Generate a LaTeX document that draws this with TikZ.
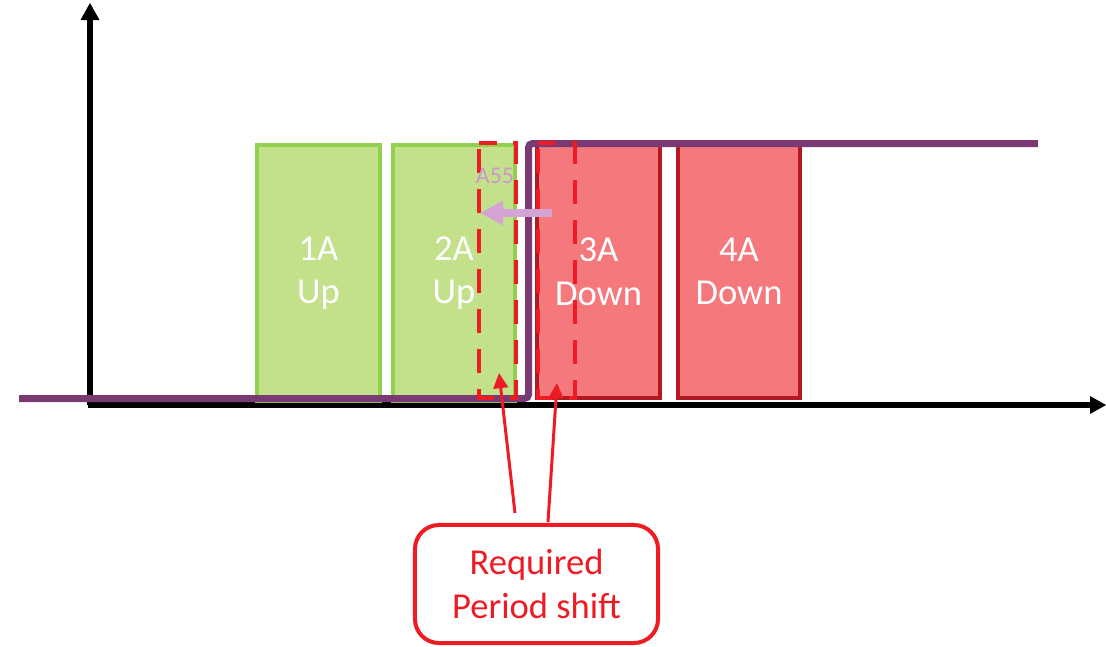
\documentclass[tikz,border=0pt]{standalone}
\usepackage{fontspec}
\setmainfont{Carlito}
\usetikzlibrary{arrows.meta}
\definecolor{upfill}{HTML}{C3E08B}
\definecolor{updraw}{HTML}{92D050}
\definecolor{downfill}{HTML}{F4787C}
\definecolor{downdraw}{HTML}{B21923}
\definecolor{period}{HTML}{7A3972}
\definecolor{shiftred}{HTML}{ED1C24}
\definecolor{movepink}{HTML}{D4A4D4}
\definecolor{labelpink}{HTML}{C99AC9}
\tikzset{
  slotbox/.style={line width=0.1cm, minimum width=3.05cm, text=white, align=center,
    font=\fontsize{26}{31}\selectfont},
  upbox/.style={slotbox, draw=updraw, fill=upfill, minimum height=6.4cm},
  downbox/.style={slotbox, draw=downdraw, fill=downfill, minimum height=6.33cm},
  shiftline/.style={shiftred, line width=0.1cm, dash pattern=on 0.6cm off 0.4cm, dash phase=0.85cm},
  shiftarrow/.style={shiftred, line width=0.075cm, -{Triangle[length=0.38cm,width=0.36cm]}}
}
\begin{document}
\begin{tikzpicture}[x=0.025cm, y=0.025cm]
	\tikzstyle{every node}+=[inner sep=0pt]
	\useasboundingbox (0,0) rectangle (1106,-646);
	% axes
	\draw [black, line width=0.13cm] (90,-405) -- (90,-18);
	\fill [black] (90,-3) -- (80.5,-20) -- (99.5,-20);
	\draw [black, line width=0.14cm] (88,-405) -- (1092,-405);
	\fill [black] (1106,-405) -- (1090,-396) -- (1090,-414);
	% slots
	\node [upbox] (b1a) at (318.5,-273) {1A\\Up};
	\node [upbox] (b2a) at (454,-273) {2A\\Up};
	\node [downbox] (b3a) at (598.5,-271.5) {3A\\Down};
	\node [downbox] (b4a) at (739,-271.5) {4A\\Down};
	% period
	\draw [period, line width=0.175cm, rounded corners=0.1cm] (19,-398.5) -- (528.5,-398.5) -- (528.5,-143.5) -- (1038,-143.5);
	\draw [shiftline] (479,-143) rectangle (516,-398);
	\draw [shiftline] (538,-143) rectangle (575,-398);
	% move
	\coordinate (mfrom) at (552,-213);
	\coordinate (mto) at (480,-213);
	\draw [movepink, line width=0.2cm, -{Triangle[length=0.575cm,width=0.575cm]}] (mfrom) -- (mto);
	\node [text=labelpink, font=\fontsize{17}{19}\selectfont] (a55) at (495,-176) {A55};
	% callout
	\node [draw=shiftred, line width=0.1cm, rounded corners=0.6cm, minimum width=6.075cm, minimum height=2.95cm, text=shiftred, align=center, font=\fontsize{26}{31}\selectfont] (shift) at (536.5,-584) {Required\\Period shift};
	\coordinate (s1) at (515,-513);
	\coordinate (t1) at (499,-373);
	\coordinate (s2) at (548,-522);
	\coordinate (t2) at (557,-383);
	\draw [shiftarrow] (s1) -- (t1);
	\draw [shiftarrow] (s2) -- (t2);
\end{tikzpicture}
\end{document}
